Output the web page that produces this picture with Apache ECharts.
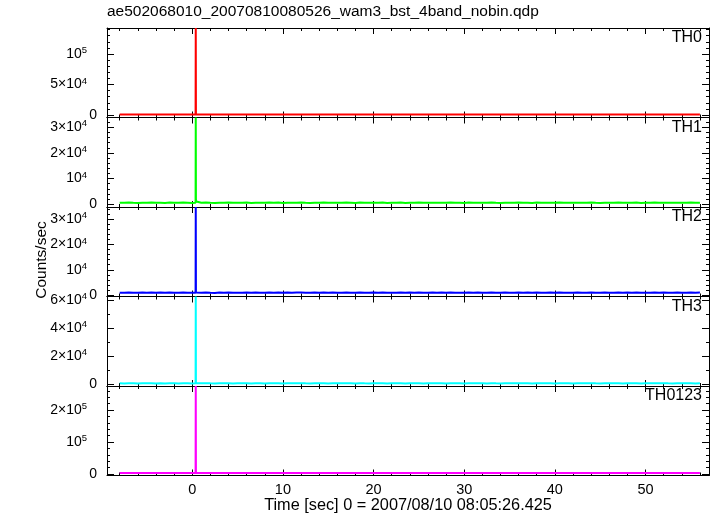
<!DOCTYPE html>
<html><head><meta charset="utf-8">
<script src="https://cdn.jsdelivr.net/npm/echarts@6/dist/echarts.min.js"></script>
<style>html,body{margin:0;padding:0;background:#fff}#c{width:717px;height:516px}</style>
</head><body><div id="c"></div>
<script>
const chartTitle = 'ae502068010_20070810080526_wam3_bst_4band_nobin.qdp';
const xTitle = 'Time [sec] 0 = 2007/08/10 08:05:26.425';
const yTitle = 'Counts/sec';
const bandNames = ['TH0', 'TH1', 'TH2', 'TH3', 'TH0123'];
const bandColors = ['#ff0000', '#00ff00', '#0000ff', '#00ffff', '#ff00ff'];

// baseline samples: t = -8.0 .. 56.0 every 0.5 s
const tStart = -8, tStep = 0.5;
const th0 = [820,760,850,790,880,740,810,830,770,860, 800,750,840,780,870,810,760,830,790,850, 770,820,880,740,800,840,790,760,850,810, 830,780,870,750,820,800,860,770,810,840, 790,850,760,830,880,800,740,820,860,780, 810,840,770,850,790,830,760,880,800,820, 750,840,810,780,860,800,830,770,850,790, 820,760,870,810,840,780,800,850,770,830, 880,790,810,760,840,820,800,860,780,830, 750,810,850,790,870,800,820,770,840,810, 790,860,780,830,800,750,840,820,870,790, 810,770,850,800,830,760,880,820,790,840, 800,770,850,810,830,790,860,780,820];
const th1 = [610,560,680,590,520,650,600,700,570,630, 540,660,610,580,690,620,550,640,600,670, 580,530,650,610,700,560,620,590,680,540, 630,600,570,660,610,690,550,640,580,620, 670,600,540,650,590,710,560,630,610,580, 660,620,540,690,600,570,640,610,680,550, 620,590,660,530,640,600,700,570,610,650, 580,630,560,680,600,620,540,670,590,640, 610,570,690,600,550,650,620,580,660,600, 630,540,680,610,590,640,570,700,600,620, 560,650,610,580,670,600,540,640,620,590, 680,570,630,600,660,550,620,610,690,580, 640,600,570,650,610,590,670,560,630];
const th2 = [930,880,990,900,850,960,910,1010,870,940, 860,980,900,890,1000,930,850,950,910,990, 880,830,960,930,1010,870,920,900,980,850, 940,910,860,970,920,1000,870,950,890,940, 980,900,850,960,910,1020,870,940,920,880, 970,930,860,1000,900,880,950,930,990,860, 920,900,970,840,950,910,1010,880,930,960, 890,940,860,990,910,930,850,980,900,950, 920,870,1000,910,860,960,930,890,970,910, 940,850,990,920,900,950,880,1010,910,930, 870,960,920,890,980,900,850,950,930,900, 990,880,940,910,970,860,930,920,1000,890, 950,910,880,960,920,900,980,870,940];
const th3 = [720,650,780,690,610,760,700,820,640,730, 600,770,710,660,800,720,630,750,690,790, 670,620,760,710,830,640,720,680,790,610, 740,700,650,770,710,810,630,750,670,720, 780,690,610,760,680,830,650,730,710,670, 770,720,620,800,690,660,750,710,790,640, 720,680,770,610,750,700,820,660,710,760, 670,740,640,790,700,720,620,780,680,750, 710,660,800,690,630,760,720,670,780,700, 730,620,790,710,680,750,660,820,700,720, 640,760,710,670,790,690,610,750,720,680, 790,660,730,700,770,630,720,710,810,670, 750,690,660,760,710,680,780,640,730];
const th0123 = [3050,2900,3150,2980,2850,3100,3000,3200,2920,3060, 2880,3130,3010,2950,3180,3040,2870,3090,2990,3160, 2940,2860,3120,3020,3210,2900,3050,2970,3170,2880, 3080,3000,2930,3140,3020,3190,2890,3100,2960,3040, 3150,2990,2870,3110,2970,3220,2910,3060,3020,2950, 3140,3040,2880,3180,3000,2940,3090,3020,3160,2900, 3050,2980,3130,2860,3100,3010,3200,2930,3020,3110, 2960,3070,2910,3170,3000,3040,2880,3150,2980,3090, 3020,2950,3180,2990,2900,3110,3040,2960,3140,3010, 3060,2890,3160,3030,2980,3100,2940,3210,3000,3050, 2920,3120,3020,2960,3170,2990,2870,3100,3040,2980, 3160,2940,3060,3000,3130,2900,3040,3020,3190,2950, 3090,2990,2940,3120,3020,2980,3150,2910,3060];

// the burst spike
const spikeTimes = [0.37, 0.39, 0.41, 0.45];
const th0Spike = [810, 142600, 900, 830];
const th1Spike = [620, 33770, 1900, 1100];
const th2Spike = [920, 34900, 1000, 950];
const th3Spike = [700, 62500, 760, 740];
const th0123Spike = [3050, 275000, 3300, 3100];

// axes
const xRange = [-9.4, 57.0];
const xTickValues = [0, 10, 20, 30, 40, 50];
const xTickLabels = ['0', '10', '20', '30', '40', '50'];
const xMinorTicks = [-8,-6,-4,-2,0,2,4,6,8,10,12,14,16,18,20,22,24,26,28,30,32,34,36,38,40,42,44,46,48,50,52,54,56];

const yRanges = [[-4100, 142600], [-1050, 33770], [-600, 34900], [-1200, 62500], [-4700, 275000]];
const yTickValues = [[0, 50000, 100000], [0, 10000, 20000, 30000], [0, 10000, 20000, 30000], [0, 20000, 40000, 60000], [0, 100000, 200000]];
const yTickLabels = [['0', '5×10^4', '10^5'], ['0', '10^4', '2×10^4', '3×10^4'], ['0', '10^4', '2×10^4', '3×10^4'], ['0', '2×10^4', '4×10^4', '6×10^4'], ['0', '10^5', '2×10^5']];
const yMinorTicks = [
  [0,10000,20000,30000,40000,50000,60000,70000,80000,90000,100000,110000,120000,130000,140000],
  [0,2000,4000,6000,8000,10000,12000,14000,16000,18000,20000,22000,24000,26000,28000,30000,32000],
  [0,2000,4000,6000,8000,10000,12000,14000,16000,18000,20000,22000,24000,26000,28000,30000,32000,34000],
  [0,10000,20000,30000,40000,50000,60000],
  [0,20000,40000,60000,80000,100000,120000,140000,160000,180000,200000,220000,240000,260000]
];

const baselines = [th0, th1, th2, th3, th0123];
const spikes = [th0Spike, th1Spike, th2Spike, th3Spike, th0123Spike];

const FONT = 'Liberation Sans, Arial, sans-serif';
const gridTop = 28, gridH = 89.5, gridLeft = 107, gridRight = 8;
const lineCol = '#000';

function toRich(s) {
  const k = s.indexOf('^');
  if (k < 0) return '{n|' + s + '}';
  return '{n|' + s.slice(0, k) + '}{s|' + s.slice(k + 1) + '}';
}

const grids = [], xAxes = [], yAxes = [], series = [], graphics = [];
for (let i = 0; i < 5; i++) {
  const top = gridTop + i * gridH;
  grids.push({left: gridLeft, right: gridRight, top: top, height: gridH, containLabel: false});
  const isLast = i === 4;
  const baseX = {type: 'value', gridIndex: i, min: xRange[0], max: xRange[1], splitLine: {show: false}};
  xAxes.push(Object.assign({}, baseX, {position: 'bottom',
    axisLine: {show: true, onZero: false, lineStyle: {color: lineCol, width: 1}},
    axisTick: {show: true, inside: true, length: 6, customValues: xTickValues, lineStyle: {color: lineCol}},
    axisLabel: {show: isLast, customValues: xTickValues, margin: 7, fontSize: 14.5, fontFamily: FONT, color: '#000',
      formatter: v => xTickLabels[xTickValues.indexOf(v)]}}));
  xAxes.push(Object.assign({}, baseX, {position: 'bottom',
    axisLine: {show: false, onZero: false},
    axisTick: {show: true, inside: true, length: 3, customValues: xMinorTicks, lineStyle: {color: lineCol}},
    axisLabel: {show: false}}));
  xAxes.push(Object.assign({}, baseX, {position: 'top',
    axisLine: {show: true, onZero: false, lineStyle: {color: lineCol, width: 1}},
    axisTick: {show: true, inside: true, length: 6, customValues: xTickValues, lineStyle: {color: lineCol}},
    axisLabel: {show: false}}));
  xAxes.push(Object.assign({}, baseX, {position: 'top',
    axisLine: {show: false, onZero: false},
    axisTick: {show: true, inside: true, length: 3, customValues: xMinorTicks, lineStyle: {color: lineCol}},
    axisLabel: {show: false}}));

  const ticks = yTickValues[i], labels = yTickLabels[i];
  const baseY = {type: 'value', gridIndex: i, min: yRanges[i][0], max: yRanges[i][1], splitLine: {show: false}};
  yAxes.push(Object.assign({}, baseY, {position: 'left',
    axisLine: {show: true, onZero: false, lineStyle: {color: lineCol, width: 1}},
    axisTick: {show: true, inside: true, length: 7, customValues: ticks, lineStyle: {color: lineCol}},
    axisLabel: {show: true, customValues: ticks, margin: 10, fontFamily: FONT, color: '#000',
      formatter: v => toRich(labels[ticks.indexOf(v)]),
      rich: {
        n: {fontSize: 14, fontFamily: FONT, color: '#000', lineHeight: 17},
        s: {fontSize: 9.5, fontFamily: FONT, color: '#000', verticalAlign: 'top', padding: [0, 10, 0, 0]}
      }}}));
  yAxes.push(Object.assign({}, baseY, {position: 'left',
    axisLine: {show: false, onZero: false},
    axisTick: {show: true, inside: true, length: 3, customValues: yMinorTicks[i], lineStyle: {color: lineCol}},
    axisLabel: {show: false}}));
  yAxes.push(Object.assign({}, baseY, {position: 'right',
    axisLine: {show: true, onZero: false, lineStyle: {color: lineCol, width: 1}},
    axisTick: {show: true, inside: true, length: 7, customValues: ticks, lineStyle: {color: lineCol}},
    axisLabel: {show: false}}));
  yAxes.push(Object.assign({}, baseY, {position: 'right',
    axisLine: {show: false, onZero: false},
    axisTick: {show: true, inside: true, length: 3, customValues: yMinorTicks[i], lineStyle: {color: lineCol}},
    axisLabel: {show: false}}));

  const pts = baselines[i].map((v, k) => [tStart + k * tStep, v]);
  spikes[i].forEach((v, k) => pts.push([spikeTimes[k], v]));
  pts.sort((a, b) => a[0] - b[0]);
  series.push({type: 'line', name: bandNames[i], xAxisIndex: i * 4, yAxisIndex: i * 4, data: pts,
    showSymbol: false, symbol: 'none', clip: true, lineStyle: {color: bandColors[i], width: 2}, z: 3});

  graphics.push({type: 'text', right: 15, top: top + 2, z: 10,
    style: {text: bandNames[i], font: '16px ' + FONT, fill: '#000'}});
}

graphics.push({type: 'text', left: 107, top: 4, style: {text: chartTitle, font: '15.5px ' + FONT, fill: '#000'}});
graphics.push({type: 'text', x: 408, y: 506, style: {text: xTitle, font: '16.3px ' + FONT, fill: '#000', align: 'center', verticalAlign: 'middle'}});
graphics.push({type: 'text', x: 42, y: 260, rotation: Math.PI / 2, style: {text: yTitle, font: '15.5px ' + FONT, fill: '#000', align: 'center', verticalAlign: 'middle'}});

const chart = echarts.init(document.getElementById('c'), null, {renderer: 'canvas'});
chart.setOption({
  animation: false,
  backgroundColor: '#fff',
  grid: grids,
  xAxis: xAxes,
  yAxis: yAxes,
  series: series,
  graphic: graphics
});
</script></body></html>
